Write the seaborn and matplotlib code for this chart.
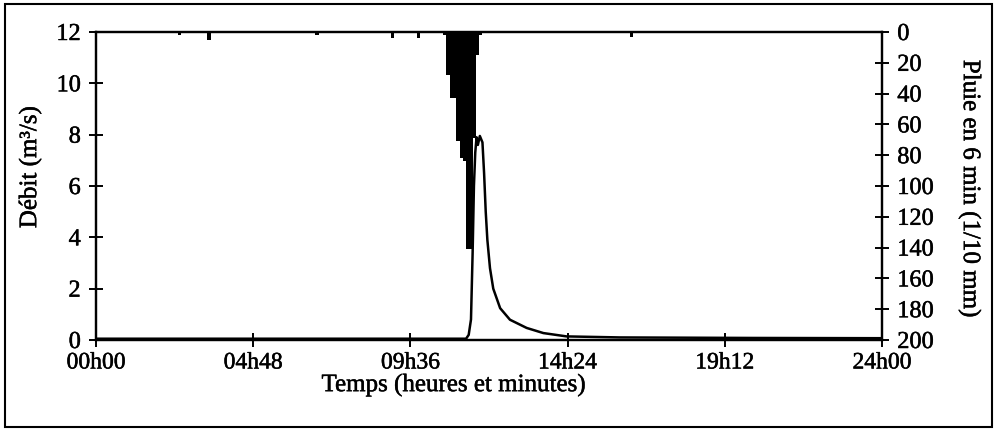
import numpy as np
import pandas as pd
import matplotlib
matplotlib.use("Agg")
import matplotlib.pyplot as plt
import matplotlib.patheffects as pe
import seaborn as sns
from matplotlib.patches import Rectangle

# ---- data ----
# discharge hydrograph (hours, m3/s)
flow_hours = [0.0, 6.0, 11.30, 11.38, 11.45, 11.50, 11.54, 11.58, 11.62, 11.66,
              11.72, 11.80, 11.85, 11.90, 11.95, 12.03, 12.13, 12.34, 12.64,
              13.15, 13.66, 14.37, 16.0, 20.0, 24.0]
flow_m3s = [0.05, 0.05, 0.05, 0.2, 0.8, 3.4, 6.0, 7.3, 7.9, 7.6,
            7.95, 7.7, 6.5, 5.0, 3.9, 2.8, 2.0, 1.24, 0.79,
            0.47, 0.27, 0.14, 0.10, 0.08, 0.07]

# 6-minute rainfall (start hour of interval, 1/10 mm)
rain_start_h = [2.5, 3.4, 6.7, 9.0, 9.8, 10.6, 10.7, 10.8, 10.9, 11.0,
                11.1, 11.2, 11.3, 11.4, 11.5, 11.6, 11.7, 16.3]
rain_tenth_mm = [2, 5, 2, 4, 4, 2, 28, 43, 43, 71,
                 82, 84, 141, 141, 69, 15, 2, 3]

x_ticks_h = [0, 4.8, 9.6, 14.4, 19.2, 24]
x_tick_labels = ["00h00", "04h48", "09h36", "14h24", "19h12", "24h00"]
left_ticks = [0, 2, 4, 6, 8, 10, 12]
right_ticks = [0, 20, 40, 60, 80, 100, 120, 140, 160, 180, 200]

flow_df = pd.DataFrame({"h": flow_hours, "q": flow_m3s})
rain_df = pd.DataFrame({"h": np.array(rain_start_h) + 0.05,
                        "r": np.array(rain_tenth_mm, dtype=float)})

# ---- style ----
sns.set_theme(style="white")
plt.rcParams["font.family"] = ["Liberation Serif", "DejaVu Serif"]
plt.rcParams["font.size"] = 17.5
plt.rcParams["text.color"] = "black"
plt.rcParams["axes.labelcolor"] = "black"

heavy = [pe.withStroke(linewidth=0.35, foreground="black")]

fig = plt.figure(figsize=(9.99, 4.35), dpi=100)
ax = fig.add_axes([96 / 999, 1 - 341 / 435, 786 / 999, 308 / 435])
ax2 = ax.twinx()

# rainfall bars (inverted axis on the right)
sns.histplot(data=rain_df, x="h", weights="r", binwidth=0.1, binrange=(0, 24),
             color="black", alpha=1, linewidth=0, edgecolor="black", ax=ax2)
ax2.set_ylim(200, 0)
ax2.set_yticks(right_ticks)
ax2.set_ylabel("")

# hydrograph
sns.lineplot(data=flow_df, x="h", y="q", color="black", linewidth=1.8, ax=ax)
ax.set_xlim(0, 24)
ax.set_ylim(0, 12)
ax.set_yticks(left_ticks)
ax.set_xticks(x_ticks_h)
ax.set_xticklabels(x_tick_labels)

for a in (ax, ax2):
    for s in a.spines.values():
        s.set_visible(True)
        s.set_color("black")
        s.set_linewidth(1.6)
    a.tick_params(direction="inout", length=10, width=1.4, color="black",
                  labelsize=17.5, labelcolor="black")
ax.tick_params(axis="y", pad=6, left=True)
ax.tick_params(axis="x", pad=4, bottom=True, labelsize=17)
ax2.tick_params(axis="y", pad=6, right=True)
ax2.tick_params(axis="x", bottom=False, labelbottom=False)
ax2.set_xlim(0, 24)

ax.set_xlabel("Temps (heures et minutes)", fontsize=18, va="center")
ax.xaxis.set_label_coords((454 - 96) / 786, (341 - 386) / 308)
ax.set_ylabel("Débit (m³/s)", fontsize=18, va="center")
ax.yaxis.set_label_coords((30 - 96) / 786, (341 - 168) / 308)
ax2.set_ylabel("Pluie en 6 min (1/10 mm)", fontsize=18, rotation=270, va="center")
ax2.yaxis.set_label_coords((970 - 96) / 786, (341 - 190) / 308)

for t in (ax.get_xticklabels() + ax.get_yticklabels() + ax2.get_yticklabels()
          + [ax.xaxis.label, ax.yaxis.label, ax2.yaxis.label]):
    t.set_path_effects(heavy)

ax.set_zorder(ax2.get_zorder() + 1)
ax.patch.set_visible(False)

# outer frame
fig.patches.append(Rectangle((5 / 999, 1 - 428 / 435), 987 / 999, 423 / 435,
                             transform=fig.transFigure, fill=False,
                             edgecolor="black", linewidth=1.5))

fig.savefig("out.png", dpi=100)
